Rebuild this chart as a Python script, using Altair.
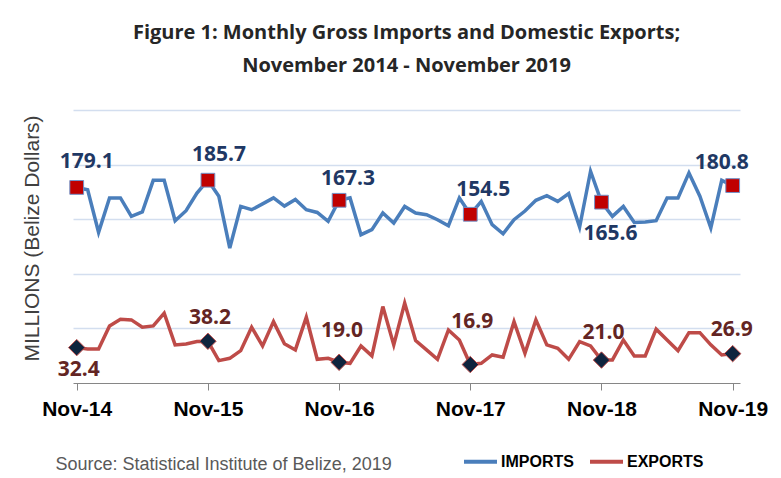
import altair as alt
import pandas as pd

# ---- data (BZ$ millions, Nov-2014 .. Nov-2019) ----
imports = [179.1, 177.0, 138.0, 169.5, 169.5, 152.6, 156.6, 185.6, 185.6, 148.6,
           157.8, 174.0, 185.7, 171.0, 123.6, 161.7, 158.7, 164.0, 169.5, 162.0,
           168.0, 158.7, 156.2, 148.0, 167.3, 169.5, 135.8, 140.4, 155.7, 146.5,
           161.7, 155.7, 154.1, 149.5, 144.0, 169.5, 154.5, 166.3, 145.0, 136.7,
           149.5, 157.5, 167.3, 171.6, 166.3, 173.4, 142.8, 193.9, 165.6, 152.6,
           161.7, 147.0, 147.5, 148.6, 169.5, 169.5, 192.4, 171.0, 142.0, 185.6,
           180.8]
exports = [32.4, 31.2, 31.2, 52.3, 58.4, 57.8, 51.1, 52.3, 63.9, 34.9,
           35.8, 37.9, 38.2, 20.5, 22.6, 29.6, 51.1, 33.9, 56.2, 36.0,
           30.3, 60.3, 21.7, 22.6, 19.0, 18.0, 33.9, 24.8, 70.0, 34.9,
           73.1, 38.8, 30.3, 21.7, 48.6, 39.4, 16.9, 18.0, 25.7, 23.6,
           56.2, 27.2, 57.8, 34.9, 31.8, 21.7, 37.9, 33.9, 21.0, 21.1,
           39.4, 24.8, 24.8, 49.3, 39.4, 29.6, 46.1, 46.1, 34.9, 25.7,
           26.9]
series_names = ["IMPORTS", "EXPORTS"]
tick_idx = [0, 12, 24, 36, 48, 60]
tick_labels = ["Nov-14", "Nov-15", "Nov-16", "Nov-17", "Nov-18", "Nov-19"]
title_lines = ["Figure 1: Monthly Gross Imports and Domestic Exports;",
               "November 2014 - November 2019"]
y_title = "MILLIONS (Belize Dollars)"
source_note = "Source: Statistical Institute of Belize, 2019"

# ---- styling (not data) ----
BLUE, RED = "#4A7EBB", "#BE4B48"
SANS = "Liberation Sans, Arial, sans-serif"
LABEL_FONT = "Open Sans, sans-serif"
imp_offsets = [(10, -25), (11, -25), (9, -21), (13, -24), (9, 32), (-11, -23)]
exp_offsets = [(2, 22), (2, -23), (3, -31), (2, -43), (2, -27), (-1, -24)]

n = len(imports)
df = pd.DataFrame({
    "m": list(range(n)) * 2,
    "value": imports + exports,
    "series": [series_names[0]] * n + [series_names[1]] * n,
})
nov_imp = pd.DataFrame({"m": tick_idx, "value": [imports[i] for i in tick_idx]})
nov_exp = pd.DataFrame({"m": tick_idx, "value": [exports[i] for i in tick_idx]})

label_expr = ("[" + ",".join("'%s'" % t for t in tick_labels) +
              "][round(datum.value/12)]")

x_enc = alt.X(
    "m:Q",
    scale=alt.Scale(domain=[-0.34, 60.67], nice=False, zero=False),
    axis=alt.Axis(
        values=tick_idx, labelExpr=label_expr,
        grid=False, domainColor="#868686", tickColor="#868686", tickSize=7,
        domainWidth=1, labelFont=SANS, labelFontSize=21, labelFontWeight="bold",
        labelColor="#000000", labelPadding=8, labelFlush=False,
        title=source_note, titleX=-18, titleY=81, titleAlign="left",
        titleBaseline="middle", titleFont=SANS, titleFontSize=18,
        titleFontWeight="normal", titleColor="#595959",
    ),
)
y_enc = alt.Y(
    "value:Q",
    scale=alt.Scale(domain=[0, 250], nice=False),
    axis=alt.Axis(
        values=[50, 100, 150, 200, 250], grid=True, gridColor="#D3DEEF",
        gridWidth=1.3, labels=False, ticks=False, domain=False,
        title=y_title, titleAngle=-90, titleX=-41, titleY=128,
        titleAlign="center", titleBaseline="middle",
        titleFont=SANS, titleFontSize=21,
        titleFontWeight="normal", titleColor="#404040",
    ),
)

lines = alt.Chart(df).mark_line(strokeWidth=3.5).encode(
    x=x_enc,
    y=y_enc,
    color=alt.Color(
        "series:N",
        scale=alt.Scale(domain=series_names, range=[BLUE, RED]),
        legend=alt.Legend(
            orient="none", legendX=389, legendY=333, direction="horizontal",
            title=None, symbolType="stroke", symbolSize=1089,
            symbolStrokeWidth=4, labelFont=SANS, labelFontSize=16,
            labelFontWeight="bold", labelColor="#000000", labelOffset=2,
            columnPadding=8, padding=0,
        ),
    ),
    detail="series:N",
)

squares = alt.Chart(nov_imp).mark_point(
    shape="square", size=190, filled=True, fill="#C00000",
    stroke="#7392C8", strokeWidth=1, opacity=1,
).encode(x="m:Q", y="value:Q")

diamonds = alt.Chart(nov_exp).mark_point(
    shape="diamond", size=270, filled=True, fill="#0F243E",
    stroke="#C0504D", strokeWidth=1, opacity=1,
).encode(x="m:Q", y="value:Q")

label_layers = []
for i, (dx, dy) in enumerate(imp_offsets):
    label_layers.append(
        alt.Chart(nov_imp.iloc[[i]]).mark_text(
            dx=dx, dy=dy, font=LABEL_FONT, fontSize=21, fontWeight="bold",
            color="#1F3864", baseline="middle", align="center",
        ).encode(x="m:Q", y="value:Q", text=alt.Text("value:Q", format=".1f"))
    )
for i, (dx, dy) in enumerate(exp_offsets):
    label_layers.append(
        alt.Chart(nov_exp.iloc[[i]]).mark_text(
            dx=dx, dy=dy, font=LABEL_FONT, fontSize=21, fontWeight="bold",
            color="#632523", baseline="middle", align="center",
        ).encode(x="m:Q", y="value:Q", text=alt.Text("value:Q", format=".1f"))
    )

chart = alt.layer(lines, squares, diamonds, *label_layers).properties(
    width=667, height=273,
    padding={"left": 65, "top": 102, "right": 33, "bottom": 95},
    autosize=alt.AutoSizeParams(type="none"),
    background="#FFFFFF",
    title=alt.Title(
        text=title_lines, font=LABEL_FONT, fontSize=20, fontWeight="bold",
        color="#262626", anchor="middle", frame="group", offset=24,
        lineHeight=33, baseline="middle",
    ),
).configure_view(stroke=None)

chart.save("out.html", embed_options={"renderer": "svg", "actions": False})
